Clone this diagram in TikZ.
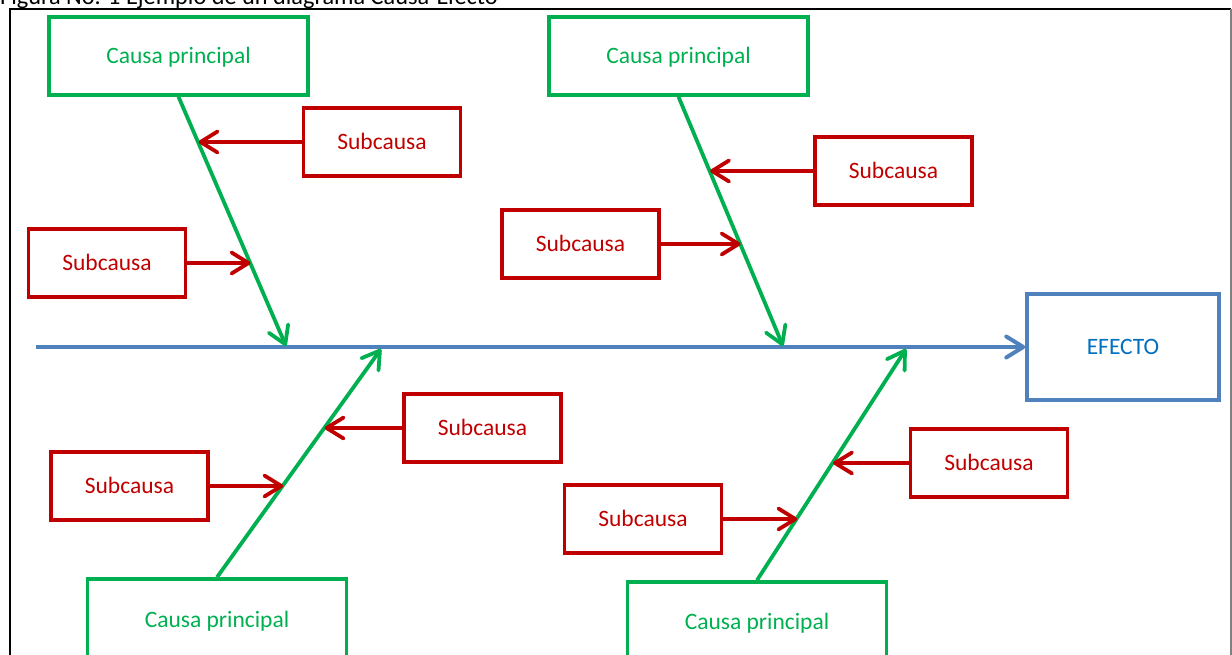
\documentclass[tikz,border=0pt]{standalone}
\usepackage{fontspec}
\setmainfont{Carlito}
\usetikzlibrary{arrows.meta,calc}
\definecolor{cgreen}{RGB}{0,176,80}
\definecolor{cred}{RGB}{192,0,0}
\definecolor{cblue}{RGB}{79,129,189}
\definecolor{ctext}{RGB}{0,112,192}
\tikzset{
  every node/.style={font=\fontsize{23.5}{28}\selectfont, inner sep=0pt, text height=15pt, text depth=0pt},
  causebox/.style={draw=cgreen, text=cgreen, line width=3.5pt, minimum width=259pt, minimum height=78pt},
  subbox/.style={draw=cred, text=cred, line width=3.5pt, minimum width=157pt, minimum height=68pt},
  effbox/.style={draw=cblue, text=ctext, line width=3.5pt, minimum width=192pt, minimum height=106pt},
  tip/.style={-{Straight Barb[length=17pt,width=21pt,line cap=round,line join=round]}},
  garrow/.style={draw=cgreen, line width=3.8pt, tip},
  rarrow/.style={draw=cred, line width=3.8pt, tip},
  barrow/.style={draw=cblue, line width=4pt, tip},
}
\begin{document}
\begin{tikzpicture}[x=1pt,y=-1pt]
\useasboundingbox (0,0) rectangle (1232,654);
\clip (0,0) rectangle (1232,654);
% title and frame
\node[anchor=base west, font=\fontsize{24.3}{28}\selectfont, text height=, text depth=] (title) at (0,4) {Figura No. 1 Ejemplo de un diagrama Causa-Efecto};
\draw[black, line width=2pt] (10,670) -- (10,9) -- (1231,9);
\draw[gray, line width=2pt] (1231,9) -- (1231,670);
% main boxes
\node[causebox] (cp1) at (178.5,56) {Causa principal};
\node[causebox] (cp2) at (678.5,56) {Causa principal};
\node[causebox] (cp3) at (217,618) {};
\node[text=cgreen] (cp3t) at (217,620) {Causa principal};
\node[causebox] (cp4) at (757,621) {};
\node[text=cgreen] (cp4t) at (757,622) {Causa principal};
\node[effbox] (eff) at (1123,347) {EFECTO};
% spine
\coordinate (sp) at (36,347);
\draw[barrow] (sp) -- (eff.west);
% heads on spine
\coordinate (h1) at (286,346);
\coordinate (h2) at (783,346);
\coordinate (h3) at (381,349);
\coordinate (h4) at (906,349);
\draw[garrow] (cp1.south) -- (h1);
\draw[garrow] (cp2.south) -- (h2);
\draw[garrow] (cp3.north) -- (h3);
\draw[garrow] (cp4.north) -- (h4);
% sub causes
\node[subbox] (s1) at (382,142) {Subcausa};
\node[subbox] (s2) at (107,263) {Subcausa};
\node[subbox] (s3) at (893.5,171) {Subcausa};
\node[subbox] (s4) at (580.5,244) {Subcausa};
\node[subbox] (s5) at (482.5,428) {Subcausa};
\node[subbox] (s6) at (129.5,486) {Subcausa};
\node[subbox] (s7) at (989,463) {Subcausa};
\node[subbox] (s8) at (643,519) {Subcausa};
% points on the green bones
\coordinate (p1) at ($(cp1.south)!{(142-95)/251}!(h1)$);
\coordinate (p2) at ($(cp1.south)!{(263-95)/251}!(h1)$);
\coordinate (p3) at ($(cp2.south)!{(171-95)/251}!(h2)$);
\coordinate (p4) at ($(cp2.south)!{(244-95)/251}!(h2)$);
\coordinate (p5) at ($(cp3.north)!{(579-428)/230}!(h3)$);
\coordinate (p6) at ($(cp3.north)!{(579-486)/230}!(h3)$);
\coordinate (p7) at ($(cp4.north)!{(582-463)/233}!(h4)$);
\coordinate (p8) at ($(cp4.north)!{(582-519)/233}!(h4)$);
\draw[rarrow] (s1.west) -- (s1.west -| p1);
\draw[rarrow] (s2.east) -- (s2.east -| p2);
\draw[rarrow] (s3.west) -- (s3.west -| p3);
\draw[rarrow] (s4.east) -- (s4.east -| p4);
\draw[rarrow] (s5.west) -- (s5.west -| p5);
\draw[rarrow] (s6.east) -- (s6.east -| p6);
\draw[rarrow] (s7.west) -- (s7.west -| p7);
\draw[rarrow] (s8.east) -- (s8.east -| p8);
\end{tikzpicture}
\end{document}
